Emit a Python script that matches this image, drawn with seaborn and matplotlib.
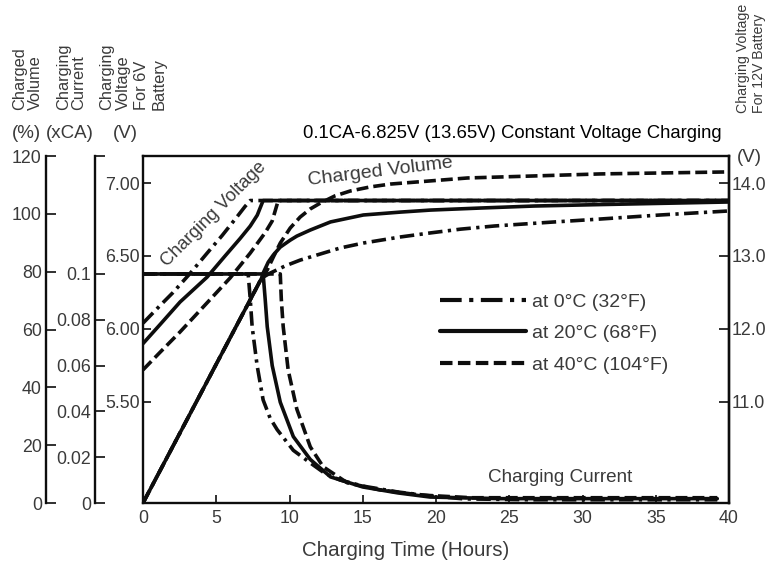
import matplotlib
matplotlib.use("Agg")
import matplotlib.pyplot as plt
from matplotlib.lines import Line2D
from matplotlib.ticker import FixedLocator, FixedFormatter, FormatStrFormatter
import pandas as pd
import seaborn as sns

# ---- data ---------------------------------------------------------------
temps = ["at 0°C (32°F)", "at 20°C (68°F)", "at 40°C (104°F)"]

# charging voltage of a 6 V battery (V) against charging time (h)
volt_t_0 = [0, 1.16, 2.05, 3.21, 4.38, 5.4, 6.43, 6.97, 7.32, 40]
volt_v_0 = [6.04, 6.16, 6.25, 6.38, 6.52, 6.64, 6.77, 6.84, 6.88, 6.88]
volt_t_20 = [0, 1.16, 2.53, 4.38, 5.6, 6.63, 7.32, 7.8, 8.2, 40]
volt_v_20 = [5.90, 6.03, 6.185, 6.356, 6.50, 6.62, 6.705, 6.78, 6.88, 6.88]
volt_t_40 = [0, 1.16, 2.53, 4.38, 5.95, 7.32, 8.34, 8.82, 9.23, 40]
volt_v_40 = [5.72, 5.84, 5.98, 6.18, 6.35, 6.52, 6.66, 6.74, 6.88, 6.88]

# charging current (xCA)
curr_t_0 = [0, 7.18, 7.32, 7.45, 7.79, 8.2, 8.68, 9.16, 10.26, 11.42, 12.4,
            13.47, 15.0, 17.4, 19.6, 21.9, 26.5, 31.2, 39.2]
curr_i_0 = [0.1, 0.1, 0.089, 0.077, 0.060, 0.045, 0.037, 0.032, 0.023, 0.0175,
            0.013, 0.010, 0.0074, 0.0048, 0.0031, 0.0018, 0.0014, 0.0014, 0.0014]
curr_t_20 = [0, 8.2, 8.34, 8.48, 8.82, 9.37, 10.26, 11.42, 12.8, 15.0, 17.4,
             19.6, 24.4, 39.2]
curr_i_20 = [0.1, 0.1, 0.089, 0.077, 0.060, 0.044, 0.029, 0.019, 0.0114, 0.0070,
             0.0044, 0.0026, 0.0019, 0.0019]
curr_t_40 = [0, 9.37, 9.44, 9.57, 9.91, 10.5, 11.42, 12.3, 13.95, 16.2, 18.9,
             22.4, 39.2]
curr_i_40 = [0.1, 0.1, 0.089, 0.077, 0.058, 0.041, 0.0245, 0.0158, 0.0088,
             0.0057, 0.0035, 0.0023, 0.0023]

# charged volume (%)
vol_t_0 = [0, 8.1, 8.68, 9.71, 10.73, 11.9, 13.47, 15.04, 17.57, 19.62, 21.67,
           24.0, 27.8, 31.2, 35.3, 40]
vol_p_0 = [0, 77.8, 79.5, 82.0, 84.0, 85.8, 88.2, 89.9, 92.0, 93.4, 94.7,
           95.8, 97.1, 98.2, 99.6, 101.0]
vol_t_20 = [0, 8.1, 8.2, 8.55, 8.9, 9.37, 10.05, 10.5, 11.42, 12.8, 15.04,
            17.57, 19.62, 23.0, 26.7, 31.2, 40]
vol_p_20 = [0, 77.8, 79.5, 83.3, 85.8, 88.5, 90.9, 92.3, 94.4, 97.2, 99.6,
            100.6, 101.3, 102.0, 102.7, 103.2, 104.1]
vol_t_40 = [0, 8.1, 8.48, 8.9, 9.37, 10.05, 10.73, 11.42, 12.1, 13.1, 14.15,
            15.5, 16.9, 19.4, 22.15, 26.7, 31.2, 40]
vol_p_40 = [0, 77.8, 80.6, 85.1, 89.9, 95.1, 98.9, 101.7, 103.7, 106.2, 107.9,
            109.3, 110.3, 111.3, 112.4, 113.1, 113.8, 114.5]

x_ticks = [0, 5, 10, 15, 20, 25, 30, 35, 40]
vol_ticks = [0, 20, 40, 60, 80, 100, 120]
curr_ticks = [0, 0.02, 0.04, 0.06, 0.08, 0.1]
curr_tick_labels = ["0", "0.02", "0.04", "0.06", "0.08", "0.1"]
volt6_ticks = [5.50, 6.00, 6.50, 7.00]
volt12_ticks = [11.0, 12.0, 13.0, 14.0]


def long_frame(ts, vs, name):
    rows = []
    for temp, t, v in zip(temps, ts, vs):
        rows += [{"hours": a, name: b, "temp": temp} for a, b in zip(t, v)]
    return pd.DataFrame(rows)


volt_df = long_frame([volt_t_0, volt_t_20, volt_t_40],
                     [volt_v_0, volt_v_20, volt_v_40], "volt")
curr_df = long_frame([curr_t_0, curr_t_20, curr_t_40],
                     [curr_i_0, curr_i_20, curr_i_40], "curr")
vol_df = long_frame([vol_t_0, vol_t_20, vol_t_40],
                    [vol_p_0, vol_p_20, vol_p_40], "vol")

# ---- style --------------------------------------------------------------
sns.set_style("ticks")
plt.rcParams["font.family"] = ["Liberation Sans", "DejaVu Sans"]

INK = "#0d0d0d"
GREY = "#3a3a3a"
LW = 2.6
palette = {t: INK for t in temps}
dashes = {temps[0]: (4, 1.5, 0.9, 1.5), temps[1]: "", temps[2]: (3.3, 1.4)}

W, H = 771, 565
fig = plt.figure(figsize=(W / 100, H / 100), dpi=100)


def fx(x):
    return x / W


def fy(y):
    return 1 - y / H


ax = fig.add_axes([fx(143), fy(503), (729 - 143) / W, (503 - 156) / H])
ax_c = ax.twinx()
ax_v = ax.twinx()
ax_r = ax.twinx()

V_LO, V_HI = 4.808, 7.185

line_kw = dict(x="hours", hue="temp", style="temp", palette=palette,
               dashes=dashes, estimator=None, sort=False, lw=LW, legend=False,
               hue_order=temps, style_order=temps)
sns.lineplot(data=volt_df, y="volt", ax=ax, **line_kw)
sns.lineplot(data=curr_df, y="curr", ax=ax_c, **line_kw)
sns.lineplot(data=vol_df, y="vol", ax=ax_v, **line_kw)

# main axis: time and 6 V charging voltage
ax.set_xlim(0, 40)
ax.set_ylim(V_LO, V_HI)
ax.set_xticks(x_ticks)
ax.set_yticks(volt6_ticks)
ax.yaxis.set_major_formatter(FormatStrFormatter("%.2f"))
ax.set_ylabel("")
ax.set_xlabel("Charging Time (Hours)", fontsize=14.8, color=GREY)
ax.xaxis.set_label_coords((406 - 143) / 586, -(550 - 503) / 347)
ax.xaxis.label.set_va("center")
ax.tick_params(axis="both", direction="in", length=6, width=1.2, color=INK,
               labelcolor=GREY, labelsize=12.8)
ax.tick_params(axis="x", pad=5)
ax.tick_params(axis="y", pad=2)
for s in ax.spines.values():
    s.set_linewidth(1.7)
    s.set_color(INK)

# charged volume scale, far left
ax_v.set_ylim(0, 120)
ax_v.set_yticks(vol_ticks)
ax_v.set_ylabel("")
# charging current scale, middle left
ax_c.set_ylim(0, 0.1515)
ax_c.yaxis.set_major_locator(FixedLocator(curr_ticks))
ax_c.yaxis.set_major_formatter(FixedFormatter(curr_tick_labels))
ax_c.yaxis.set_minor_locator(FixedLocator([0.1515]))
ax_c.set_ylabel("")

for a, pos in ((ax_v, -0.1655), (ax_c, -0.0819)):
    for side in ("right", "top", "bottom"):
        a.spines[side].set_visible(False)
    a.spines["left"].set_visible(True)
    a.spines["left"].set_position(("axes", pos))
    a.spines["left"].set_linewidth(1.7)
    a.spines["left"].set_color(INK)
    a.yaxis.set_ticks_position("left")
    a.yaxis.set_label_position("left")
    a.tick_params(axis="y", which="both", direction="in", length=7, width=1.2,
                  color=INK, labelcolor=GREY, labelsize=12.8, pad=3)

# 12 V charging voltage scale, right
ax_r.set_ylim(2 * V_LO, 2 * V_HI)
ax_r.set_yticks(volt12_ticks)
ax_r.yaxis.set_major_formatter(FormatStrFormatter("%.1f"))
for side in ("left", "top", "bottom"):
    ax_r.spines[side].set_visible(False)
ax_r.spines["right"].set_linewidth(1.7)
ax_r.spines["right"].set_color(INK)
ax_r.tick_params(axis="y", direction="in", length=7, width=1.2, color=INK,
                 labelcolor=GREY, labelsize=12.8, pad=2)

# ---- annotations ----------------------------------------------------------
fig.text(fx(303), fy(133), "0.1CA-6.825V (13.65V) Constant Voltage Charging",
         ha="left", va="center", fontsize=13.3, color="black")
fig.text(fx(214), fy(214), "Charging Voltage", rotation=45,
         rotation_mode="anchor", ha="center", va="center", fontsize=13.2,
         color=GREY)
fig.text(fx(380), fy(172), "Charged Volume", rotation=7,
         rotation_mode="anchor", ha="center", va="center", fontsize=14,
         color=GREY)
fig.text(fx(560), fy(478), "Charging Current", ha="center", va="center",
         fontsize=13.6, color=GREY)

head_kw = dict(rotation=90, ha="left", va="bottom", fontsize=11.8, color=GREY,
               linespacing=1.05)
fig.text(fx(12), fy(110), "Charged\nVolume", **head_kw)
fig.text(fx(56), fy(110), "Charging\nCurrent", **head_kw)
fig.text(fx(99), fy(110), "Charging\nVoltage\nFor 6V\nBattery",
         **{**head_kw, "linespacing": 1.2})
fig.text(fx(736), fy(113), "Charging Voltage\nFor 12V Battery",
         rotation=90, ha="left", va="bottom", fontsize=10.2, color=GREY,
         linespacing=1.15)

unit_kw = dict(ha="left", va="center", fontsize=13.5, color=GREY)
fig.text(fx(12), fy(133), "(%)", **unit_kw)
fig.text(fx(46), fy(133), "(xCA)", **unit_kw)
fig.text(fx(113), fy(133), "(V)", **unit_kw)
fig.text(fx(737), fy(157), "(V)", **unit_kw)

handles = [
    Line2D([], [], color=INK, lw=3.0, dashes=(5.2, 1.8, 1.0, 1.8)),
    Line2D([], [], color=INK, lw=3.0, linestyle="-"),
    Line2D([], [], color=INK, lw=3.0, dashes=(3.0, 1.3)),
]
fig.legend(handles, temps, loc="upper left",
           bbox_to_anchor=(fx(440), fy(293)), frameon=False, fontsize=14,
           handlelength=4.4, handletextpad=0.35, labelspacing=0.72,
           borderpad=0, borderaxespad=0, labelcolor=GREY)

fig.savefig("out.png", dpi=100)
